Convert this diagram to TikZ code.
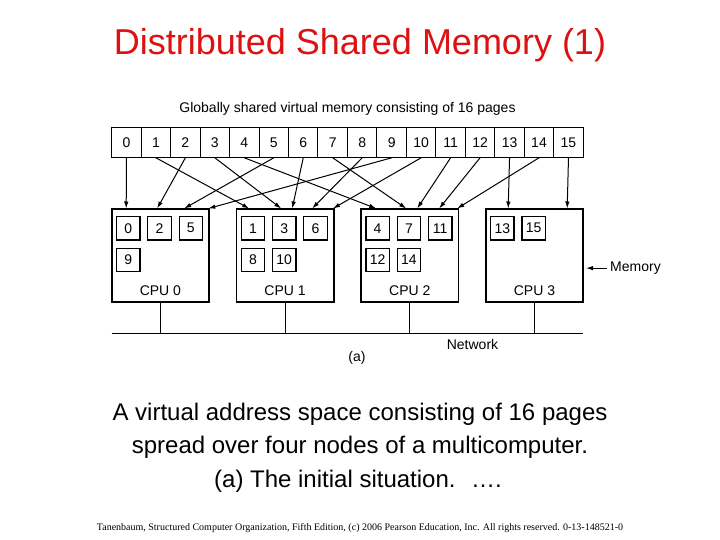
\documentclass[tikz,border=0pt]{standalone}
\usepackage{fontspec}
\setmainfont{Liberation Sans}
\newfontfamily\footfont{Liberation Serif}
\usetikzlibrary{arrows.meta}
\definecolor{titlered}{RGB}{221,17,17}

\begin{document}
\begin{tikzpicture}[x=1pt,y=-1pt,
    page/.style={draw,line width=1pt,minimum width=29.47pt,minimum height=29.6pt,inner sep=0pt,font=\fontsize{14}{16}\selectfont},
    cpubox/.style={draw,line width=1.6pt,minimum width=97.4pt,minimum height=92.4pt,inner sep=0pt},
    held/.style={draw,line width=1.2pt,minimum size=23.4pt,inner sep=0pt,font=\fontsize{14}{16}\selectfont},
    lbl/.style={font=\fontsize{14}{16}\selectfont,inner sep=0pt},
    caption/.style={font=\fontsize{24}{28}\selectfont,anchor=base},
    ptr/.style={line width=1pt,-{Latex[length=7pt,width=4.5pt]}}]
  \useasboundingbox (0,0) rectangle (720,540);
  \node[font=\fontsize{36}{40}\selectfont,text=titlered,anchor=base] (title) at (360,54.5) {Distributed Shared Memory (1)};

  % the 16 shared pages
  \node[lbl,anchor=base] (gsvm) at (347.5,113) {Globally shared virtual memory consisting of 16 pages};
  \foreach \i in {0,...,15}
    \node[page] (p\i) at ({111.7+29.47*(\i+0.5)},142.5) {\i};

  % the four nodes
  \foreach \c/\cx in {0/160.4,1/285.1,2/409.8,3/534.5}{
    \node[cpubox] (cpu\c) at (\cx,255.5) {};
    \node[lbl] (cpulbl\c) at (\cx,291) {CPU \c};
  }
  % page/cpu/column/row
  \foreach \pg/\c/\col/\row in {0/0/0/0,2/0/1/0,5/0/2/0,9/0/0/1,
      1/1/0/0,3/1/1/0,6/1/2/0,8/1/0/1,10/1/1/1,
      4/2/0/0,7/2/1/0,11/2/2/0,12/2/0/1,14/2/1/1,
      13/3/0/0,15/3/1/0}
    \node[held] (h\pg) at ([xshift={17.3pt+31.3pt*\col},yshift={-19.7pt-31.6pt*\row}]cpu\c.north west) {\pg};

  % where each page lives
  \foreach \pg/\c/\dx in {0/0/15.3,2/0/46.3,5/0/73.3,9/0/97.4,
      1/1/13.6,3/1/45.6,6/1/56.6,8/1/76.6,10/1/97.4,
      4/2/15.9,7/2/45.9,11/2/56.9,12/2/78.9,14/2/96.9,
      13/3/23.2,15/3/82.2}
    \draw[ptr] (p\pg.south) -- ([xshift=\dx pt]cpu\c.north west);

  % network
  \coordinate (netW) at (111.7,333);
  \coordinate (netE) at (583.2,333);
  \draw[line width=1pt] (netW) -- (netE);
  \foreach \c in {0,...,3}
    \draw[line width=1pt] (cpu\c.south) -- (cpu\c.south |- netW);
  \node[lbl] (net) at (472.5,344.5) {Network};
  \node[lbl] (suba) at (357,357.5) {(a)};

  \node[lbl,anchor=base west] (mem) at (610,271.5) {Memory};
  \draw[ptr] ([xshift=-3pt]mem.west) -- ([xshift=2pt]mem.west -| cpu3.east);

  \node[caption] (cap1) at (360,420) {A virtual address space consisting of 16 pages};
  \node[caption] (cap2) at (360,453.5) {spread over four nodes of a multicomputer.};
  \node[caption] (cap3) at (358,487) {(a) The initial situation.~ ….};

  \node[font=\footfont\fontsize{10}{12}\selectfont,anchor=base] (foot) at (360,530) {Tanenbaum, Structured Computer Organization, Fifth Edition, (c) 2006 Pearson Education, Inc. All rights reserved. 0-13-148521-0};
\end{tikzpicture}
\end{document}
